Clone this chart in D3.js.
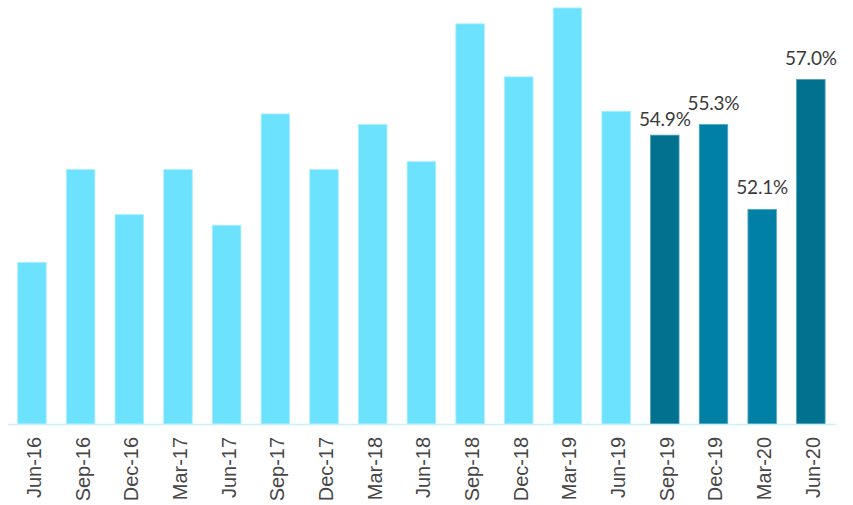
<!DOCTYPE html>
<html>
<head>
<meta charset="utf-8">
<script src="https://cdn.jsdelivr.net/npm/d3@7"></script>
<style>
  html, body { margin: 0; padding: 0; background: #ffffff; }
  svg { display: block; }
</style>
</head>
<body>
<svg id="chart" width="853" height="505"></svg>
<script>
const categories = ["Jun-16","Sep-16","Dec-16","Mar-17","Jun-17","Sep-17","Dec-17","Mar-18","Jun-18","Sep-18","Dec-18","Mar-19","Jun-19","Sep-19","Dec-19","Mar-20","Jun-20"];
const values = [50.1, 53.6, 51.9, 53.6, 51.5, 55.7, 53.6, 55.3, 53.9, 59.1, 57.1, 59.7, 55.8, 54.9, 55.3, 52.1, 57.0];
const labelTexts = ["","","","","","","","","","","","","","54.9%","55.3%","52.1%","57.0%"];
const yDomain = [44, 60];

const svg = d3.select("#chart");
const x = d3.scaleBand().domain(categories).range([7.6, 835.2]).paddingInner(0.415).paddingOuter(0.2075);
const y = d3.scaleLinear().domain(yDomain).range([424, 0]);

const fillFor = (i) => {
  if (i < 13) return "#6ce2fe";
  return (i === 13 || i === 16) ? "#00718f" : "#0080a5";
};
const strokeFor = (i) => i < 13 ? "#a6efff" : (i === 13 || i === 16) ? "#4f9fb5" : "#52a6c2";

const idx = d3.range(categories.length);

svg.append("g").selectAll("rect").data(idx).join("rect")
  .attr("x", i => x(categories[i]))
  .attr("y", i => y(values[i]))
  .attr("width", x.bandwidth())
  .attr("height", i => y(yDomain[0]) - y(values[i]))
  .attr("fill", i => fillFor(i))
  .attr("stroke", i => strokeFor(i))
  .attr("stroke-width", 0.8);

// axis
const axis = d3.axisBottom(x).tickSize(0).tickPadding(0);
const gx = svg.append("g").attr("transform", `translate(0,${y(yDomain[0])})`).call(axis);
gx.select(".domain").attr("stroke", "#c8f1fb").attr("stroke-width", 1.6);
gx.selectAll(".tick text")
  .attr("fill", "#474747")
  .attr("font-family", "'Liberation Sans', Arial, sans-serif")
  .attr("font-size", 21)
  .attr("text-anchor", "end")
  .attr("dy", null)
  .attr("y", null)
  .attr("transform", "translate(9,13) rotate(-90) scale(0.95,1)");

// data labels
const labelDy = {13: 9};
const labelIdx = idx.filter(i => labelTexts[i] !== "");
svg.append("g").attr("class", "labels").selectAll("text").data(labelIdx).join("text")
  .attr("x", i => x(categories[i]) + x.bandwidth() / 2)
  .attr("y", i => y(values[i]) - (labelDy[i] !== undefined ? labelDy[i] : 15))
  .attr("text-anchor", "middle")
  .style("fill", "#3a3a3a")
  .style("font-family", "Lato, 'Noto Sans', sans-serif")
  .style("font-size", "19px")
  .style("letter-spacing", "-0.2px")
  .text(i => labelTexts[i]);
</script>
</body>
</html>
